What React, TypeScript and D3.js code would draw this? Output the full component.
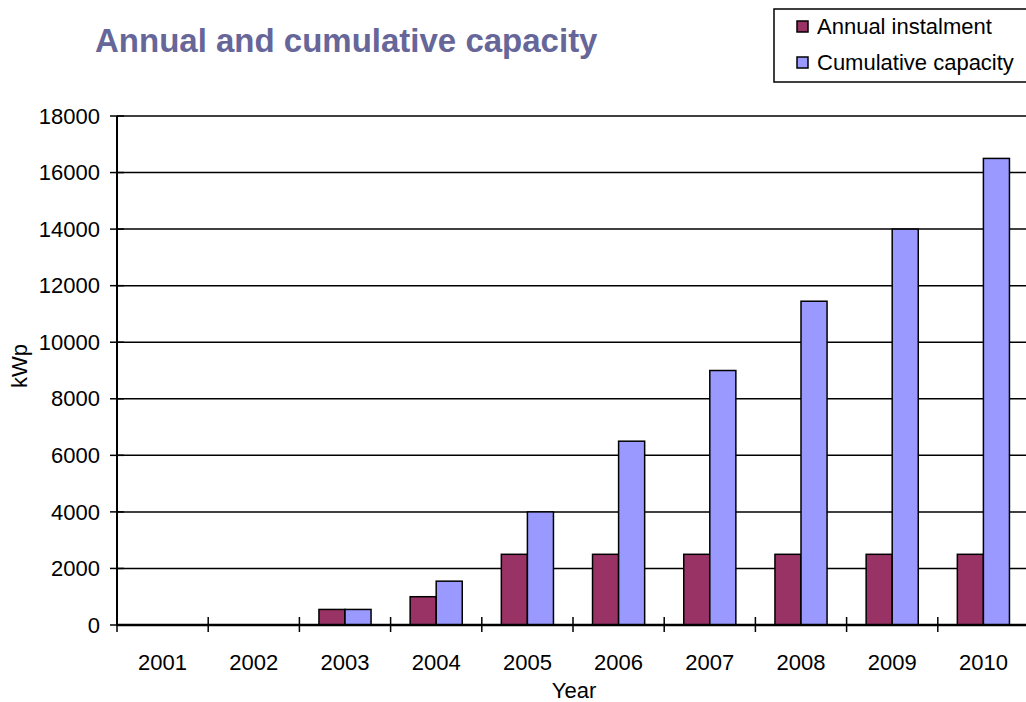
import { useEffect, useRef } from 'react';
import * as d3 from 'd3';

const years = ['2001', '2002', '2003', '2004', '2005', '2006', '2007', '2008', '2009', '2010'];
const annualInstalment = [0, 0, 550, 1000, 2500, 2500, 2500, 2500, 2500, 2500];
const cumulativeCapacity = [0, 0, 550, 1550, 4000, 6500, 9000, 11450, 14000, 16500];
const yTicks = [0, 2000, 4000, 6000, 8000, 10000, 12000, 14000, 16000, 18000];

export default function App() {
  const svgRef = useRef<SVGSVGElement>(null);

  useEffect(() => {
    if (!svgRef.current) return;
    document.body.style.margin = '0';

    const svg = d3.select(svgRef.current);
    svg.selectAll('*').remove();

    const width = 1026;
    const height = 702;
    const margin = { top: 116, right: -3, bottom: 77, left: 117 };
    const font = '"Liberation Sans", Arial, sans-serif';
    const fontSize = '22px';

    svg.attr('width', width).attr('height', height).style('overflow', 'hidden');

    const chartWidth = width - margin.left - margin.right;
    const chartHeight = height - margin.top - margin.bottom;

    const g = svg.append('g')
      .attr('transform', `translate(${margin.left},${margin.top})`);

    // Scales
    const x0 = d3.scaleBand().domain(years).range([0, chartWidth]).paddingInner(0).paddingOuter(0);
    const x1 = d3.scaleBand().domain(['annual', 'cumulative']).range([0, x0.bandwidth()])
      .paddingOuter(0.75).paddingInner(0);
    const y = d3.scaleLinear().domain([0, 18000]).range([chartHeight, 0]);

    // Grid lines
    g.append('g')
      .selectAll('line')
      .data(yTicks.filter(t => t > 0))
      .enter()
      .append('line')
      .attr('x1', 0)
      .attr('x2', chartWidth)
      .attr('y1', d => y(d))
      .attr('y2', d => y(d))
      .attr('stroke', '#000')
      .attr('stroke-width', 1.5);

    // Bars
    const series = [
      { key: 'annual', label: 'Annual instalment', values: annualInstalment, color: '#993366' },
      { key: 'cumulative', label: 'Cumulative capacity', values: cumulativeCapacity, color: '#9999ff' },
    ];
    series.forEach(s => {
      g.selectAll(`.bar-${s.key}`)
        .data(years.filter((_, i) => s.values[i] > 0))
        .enter()
        .append('rect')
        .attr('x', d => (x0(d) as number) + (x1(s.key) as number))
        .attr('y', d => y(s.values[years.indexOf(d)]))
        .attr('width', x1.bandwidth())
        .attr('height', d => chartHeight - y(s.values[years.indexOf(d)]))
        .attr('fill', s.color)
        .attr('stroke', '#000')
        .attr('stroke-width', 1.5);
    });

    // Y axis
    const yAxis = g.append('g');
    yAxis.append('line')
      .attr('x1', 0).attr('x2', 0)
      .attr('y1', 0).attr('y2', chartHeight)
      .attr('stroke', '#000').attr('stroke-width', 2);
    yAxis.selectAll('.ytick')
      .data(yTicks)
      .enter()
      .append('line')
      .attr('x1', -7).attr('x2', 7)
      .attr('y1', d => y(d)).attr('y2', d => y(d))
      .attr('stroke', '#000').attr('stroke-width', 1.5);
    yAxis.selectAll('.ylabel')
      .data(yTicks)
      .enter()
      .append('text')
      .attr('x', -17)
      .attr('y', d => y(d))
      .attr('dy', '0.35em')
      .attr('text-anchor', 'end')
      .style('font-family', font)
      .style('font-size', fontSize)
      .text(d => String(d));

    // X axis
    const xAxis = g.append('g').attr('transform', `translate(0,${chartHeight})`);
    xAxis.append('line')
      .attr('x1', 0).attr('x2', chartWidth)
      .attr('stroke', '#000').attr('stroke-width', 2.5);
    xAxis.selectAll('.xtick')
      .data(years)
      .enter()
      .append('line')
      .attr('x1', d => x0(d) as number).attr('x2', d => x0(d) as number)
      .attr('y1', -8).attr('y2', 7)
      .attr('stroke', '#000').attr('stroke-width', 1.5);
    xAxis.selectAll('.xlabel')
      .data(years)
      .enter()
      .append('text')
      .attr('x', d => (x0(d) as number) + x0.bandwidth() / 2)
      .attr('y', 45)
      .attr('text-anchor', 'middle')
      .style('font-family', font)
      .style('font-size', fontSize)
      .text(d => d);

    // Axis titles
    svg.append('text')
      .attr('x', 574)
      .attr('y', 698)
      .attr('text-anchor', 'middle')
      .style('font-family', font)
      .style('font-size', fontSize)
      .text('Year');

    svg.append('text')
      .attr('transform', 'translate(27,366) rotate(-90)')
      .attr('text-anchor', 'middle')
      .style('font-family', font)
      .style('font-size', fontSize)
      .text('kWp');

    // Title
    svg.append('text')
      .attr('x', 95)
      .attr('y', 52)
      .style('font-family', font)
      .style('font-size', '33px')
      .style('font-weight', '700')
      .attr('fill', '#666699')
      .text('Annual and cumulative capacity');

    // Legend
    const legend = svg.append('g');
    legend.append('rect')
      .attr('x', 774).attr('y', 9)
      .attr('width', 270).attr('height', 73)
      .attr('fill', '#fff')
      .attr('stroke', '#000').attr('stroke-width', 1.5);
    series.forEach((s, i) => {
      const row = legend.append('g').attr('transform', `translate(797, ${21 + i * 36})`);
      row.append('rect')
        .attr('width', 11).attr('height', 11)
        .attr('fill', s.color)
        .attr('stroke', '#000').attr('stroke-width', 1.5);
      row.append('text')
        .attr('x', 20).attr('y', 13)
        .style('font-family', font)
        .style('font-size', fontSize)
        .text(s.label);
    });
  }, []);

  return <svg ref={svgRef} style={{ display: 'block' }} />;
}
